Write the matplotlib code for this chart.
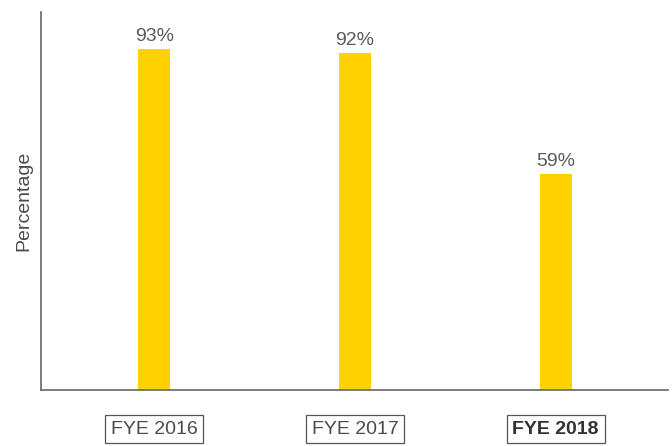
import matplotlib.pyplot as plt

years = ['FYE 2016', 'FYE 2017', 'FYE 2018']
values = [93, 92, 59]
labels = ['93%', '92%', '59%']

plt.rcParams['font.family'] = ['Liberation Sans', 'DejaVu Sans']

fig = plt.figure(figsize=(6.72, 4.46), dpi=100)
ax = fig.add_axes([0.061, 0.1256, 0.933, 0.847])

x = range(len(years))
bars = ax.bar(x, values, width=0.16, color='#FFD200')

for b, t in zip(bars, labels):
    ax.text(b.get_x() + b.get_width() / 2, b.get_height() + 1.0, t,
            ha='center', va='bottom', fontsize=14, color='#5a5a5a')

ax.set_xlim(-0.565, 2.56)
ax.set_ylim(0, 103)
ax.set_yticks([])
ax.set_xticks(list(x))
ax.set_xticklabels(years, fontsize=14, color='#4a4a4a')
ax.tick_params(axis='x', length=0, pad=22)
for i, tl in enumerate(ax.get_xticklabels()):
    tl.set_bbox(dict(facecolor='white', edgecolor='#555555', linewidth=0.9, pad=4))
    if i == 2:
        tl.set_fontweight('bold')
        tl.set_color('#333333')

ax.set_ylabel('Percentage', fontsize=14, color='#4a4a4a', labelpad=6)

for s in ['top', 'right']:
    ax.spines[s].set_visible(False)
for s in ['left', 'bottom']:
    ax.spines[s].set_color('#666666')
    ax.spines[s].set_linewidth(1.2)

fig.savefig('out.png', dpi=100)
